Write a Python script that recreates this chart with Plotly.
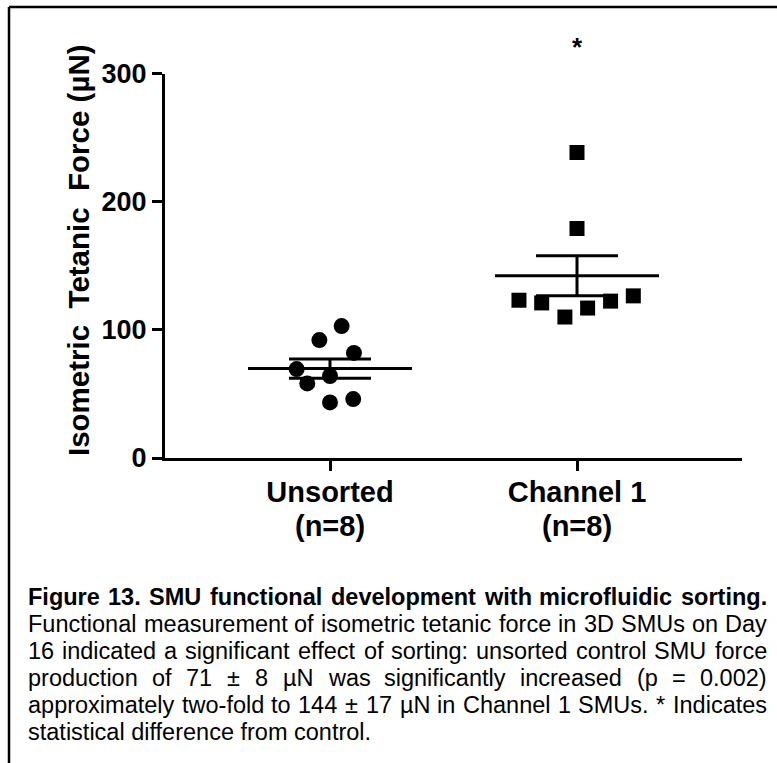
import numpy as np
import plotly.graph_objects as go

# ---------------- data ----------------
categories = ["Unsorted", "Channel 1"]
group_sizes = ["(n=8)", "(n=8)"]
unsorted_force = [102.9, 92.0, 82.0, 69.4, 64.0, 58.2, 43.4, 46.0]
channel1_force = [238.3, 179.0, 123.1, 121.0, 110.0, 117.0, 122.4, 126.5]
y_tick_values = [0, 100, 200, 300]
y_title = "Isometric\u00a0 Tetanic\u00a0 Force (µN)"
significance_label = "*"
caption_title = "Figure 13. SMU functional development with microfluidic sorting."
caption_lines = [
    "Functional measurement of isometric tetanic force in 3D SMUs on Day",
    "16 indicated a significant effect of sorting: unsorted control SMU force",
    "production of 71 ± 8 µN was significantly increased (p = 0.002)",
    "approximately two-fold to 144 ± 17 µN in Channel 1 SMUs. * Indicates",
    "statistical difference from control.",
]

# horizontal scatter offsets of points within each column (layout)
unsorted_jitter = [0.047, -0.043, 0.097, -0.135, 0.0, -0.092, 0.0, 0.094]
channel1_jitter = [0.0, 0.0, -0.235, -0.143, -0.049, 0.043, 0.136, 0.228]

# ---------------- layout constants ----------------
W, H = 777, 763
X_LEFT, X_RIGHT = 165, 742
Y_BOTTOM, Y_TOP = 458, 73.5
FONT = "Arial, 'Liberation Sans', sans-serif"
MEAN_HALF = 0.332
CAP_HALF_PX = 41

def px_x(p):
    return p / W

def px_y(p):
    return 1 - p / H

fig = go.Figure()

groups = [
    (0, unsorted_force, unsorted_jitter, "circle", 16),
    (1, channel1_force, channel1_jitter, "square", 15),
]

# mean and SEM lines
for xi, vals, jit, sym, sz in groups:
    v = np.array(vals)
    mean = v.mean()
    sem = v.std(ddof=1) / np.sqrt(len(v))
    fig.add_trace(go.Scatter(
        x=[xi - MEAN_HALF, xi + MEAN_HALF], y=[mean, mean], mode="lines",
        line=dict(color="black", width=3), hoverinfo="skip", showlegend=False))
    fig.add_trace(go.Scatter(
        x=[xi], y=[mean], mode="markers", marker=dict(size=1, opacity=0),
        error_y=dict(type="data", array=[sem], visible=True, color="black",
                     thickness=3, width=CAP_HALF_PX),
        hoverinfo="skip", showlegend=False))

# individual points
for xi, vals, jit, sym, sz in groups:
    fig.add_trace(go.Scatter(
        x=[xi + j for j in jit], y=vals, mode="markers",
        marker=dict(symbol=sym, size=sz, color="black", line=dict(width=0)),
        name=categories[xi], showlegend=False))

fig.update_xaxes(
    domain=[px_x(X_LEFT), px_x(X_RIGHT)], range=[-0.668, 1.668],
    tickvals=[0, 1], ticktext=categories, automargin=False,
    ticks="outside", ticklen=10, tickwidth=3, tickcolor="black",
    showline=True, linewidth=3, linecolor="black", ticklabelstandoff=-4,
    showgrid=False, zeroline=False,
    tickfont=dict(family=FONT, size=29, color="black", weight="bold"),
)
fig.update_yaxes(
    domain=[px_y(Y_BOTTOM), px_y(Y_TOP)], range=[0, 300],
    tickvals=y_tick_values, automargin=False,
    ticks="outside", ticklen=10, tickwidth=3, tickcolor="black",
    showline=True, linewidth=3, linecolor="black",
    showgrid=False, zeroline=False,
    tickfont=dict(family=FONT, size=27, color="black", weight="bold"),
)

annotations = []
# group sizes under the category labels
for xi, n in enumerate(group_sizes):
    annotations.append(dict(
        text=n, xref="x", yref="paper", x=xi, y=px_y(526),
        xanchor="center", yanchor="middle", showarrow=False,
        font=dict(family=FONT, size=29, color="black", weight="bold")))
# y axis title
annotations.append(dict(
    text=y_title, textangle=-90, xref="paper", yref="paper",
    x=px_x(79), y=px_y(250), xanchor="center", yanchor="middle",
    showarrow=False, font=dict(family=FONT, size=29.5, color="black", weight="bold")))
# significance star
annotations.append(dict(
    text=significance_label, xref="x", yref="paper", x=1, y=px_y(47),
    xanchor="center", yanchor="middle", showarrow=False,
    font=dict(family=FONT, size=26, color="black", weight="bold")))

# ---------------- caption (justified) ----------------
REG = {}
for chars, w in [("ijl", 222), (" ftI.,:!/[]", 278), ("r-()", 333), ("*", 389),
                 ("Jcksvxyz", 500), ("abdeghnopqu0123456789µL", 556), ("±=+", 584),
                 ("FTZ", 611), ("ABEKPSVXY", 667), ("CDHNRUw", 722), ("GOQ", 778),
                 ("mM", 833), ("W", 944)]:
    for ch in chars:
        REG[ch] = w
BOLD = {}
for chars, w in [("ijl .,:I", 278), ("ft()-", 333), ("*", 389), ("r", 389), ("z", 500),
                 ("aceksvxyJ0123456789", 556), ("=", 584),
                 ("bdghnopquFTLZ", 611), ("ESPVXY", 667), ("ABCDHKNRU", 722),
                 ("wGOQ", 778), ("M", 833), ("m", 889), ("W", 944)]:
    for ch in chars:
        BOLD[ch] = w

CAP_L, CAP_R = 28, 767
CAP_SIZE = 23.5
LINE_Y0, LINE_STEP = 597, 26.9

def width(s, table, size):
    return sum(table.get(ch, 556) for ch in s) / 1000.0 * size

all_lines = [(caption_title, BOLD, "bold", True)] + \
    [(t, REG, "normal", i < len(caption_lines) - 1) for i, t in enumerate(caption_lines)]

for li, (text, table, weight, justify) in enumerate(all_lines):
    ly = LINE_Y0 + li * LINE_STEP
    font = dict(family=FONT, size=CAP_SIZE, color="black", weight=weight)
    if not justify:
        annotations.append(dict(
            text=text, xref="paper", yref="paper", x=px_x(CAP_L), y=px_y(ly),
            xanchor="left", yanchor="middle", showarrow=False, font=font,
            borderpad=0, borderwidth=0))
        continue
    words = text.split(" ")
    ws = [width(w_, table, CAP_SIZE) for w_ in words]
    gap = (CAP_R - CAP_L - sum(ws)) / (len(words) - 1)
    xpos = CAP_L
    for w_, wd in zip(words, ws):
        annotations.append(dict(
            text=w_, xref="paper", yref="paper", x=px_x(xpos), y=px_y(ly),
            xanchor="left", yanchor="middle", showarrow=False, font=font,
            borderpad=0, borderwidth=0))
        xpos += wd + gap

# frame lines
shapes = [
    dict(type="line", xref="paper", yref="paper", x0=px_x(9), x1=1,
         y0=px_y(7), y1=px_y(7), line=dict(color="black", width=2.5)),
    dict(type="line", xref="paper", yref="paper", x0=px_x(9), x1=px_x(9),
         y0=0, y1=px_y(7), line=dict(color="black", width=2.5)),
]

fig.update_layout(
    template="none",
    width=W, height=H, margin=dict(l=0, r=0, t=0, b=0, pad=0, autoexpand=False),
    paper_bgcolor="white", plot_bgcolor="white",
    annotations=annotations, shapes=shapes, showlegend=False,
    font=dict(family=FONT, color="black"),
)

fig.write_html("out.html")
